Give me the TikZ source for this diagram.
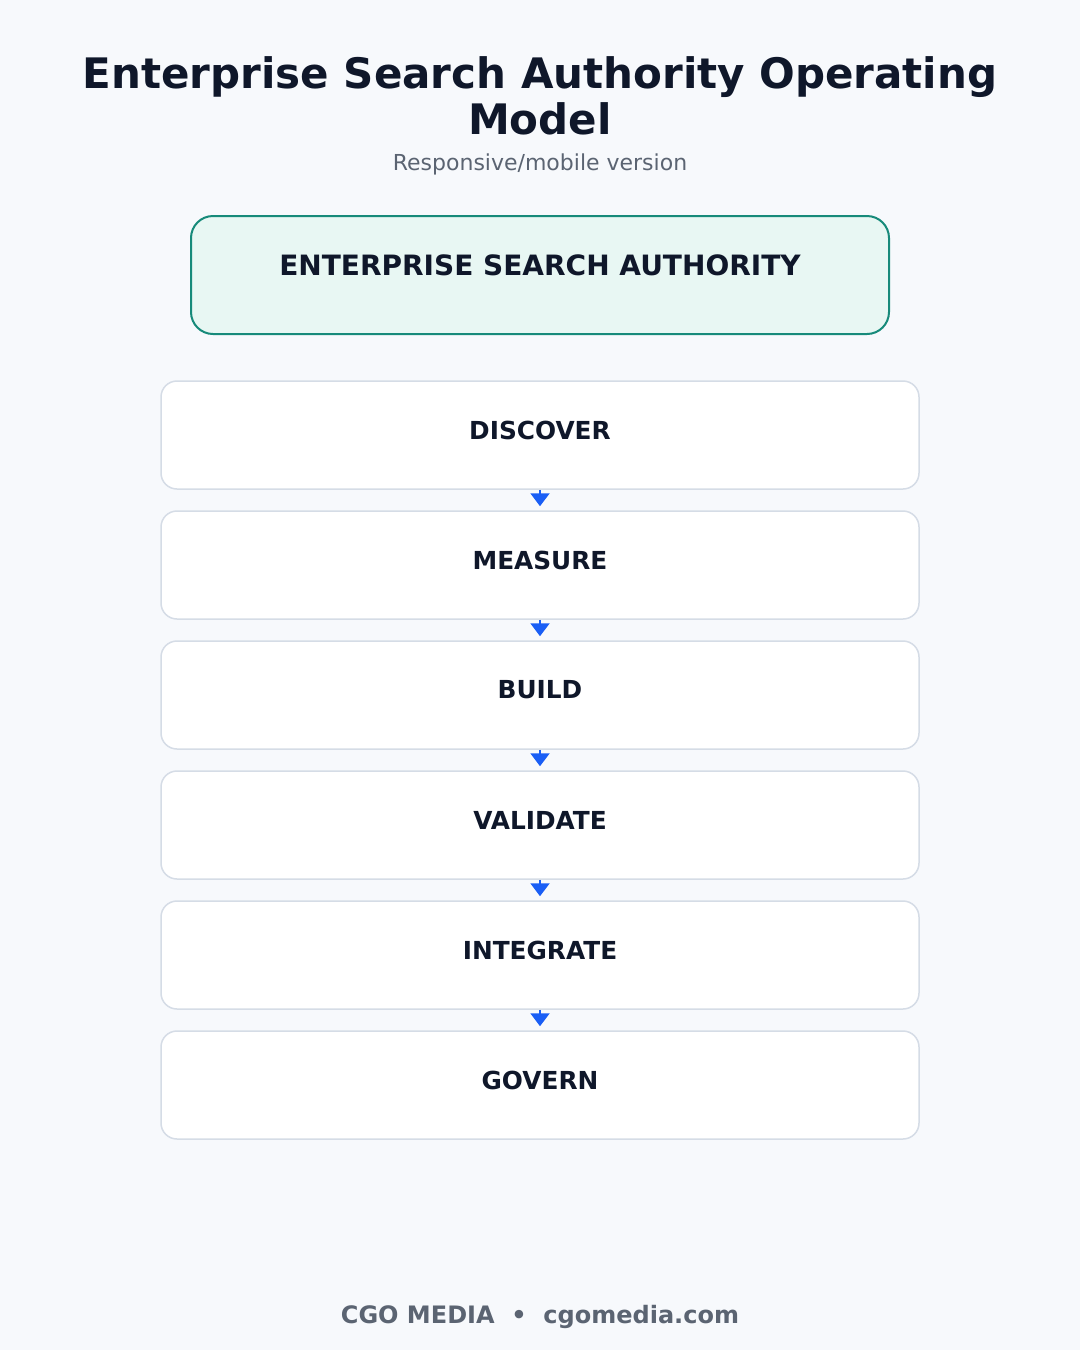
\documentclass[tikz,border=0pt]{standalone}
\usepackage{fontspec}
\setmainfont{DejaVu Sans}
\usetikzlibrary{arrows.meta}
\definecolor{bg}{HTML}{F7F9FC}
\definecolor{ink}{HTML}{0F172A}
\definecolor{subgray}{HTML}{5B6472}
\definecolor{teal}{HTML}{178A7A}
\definecolor{tealfill}{HTML}{E8F7F3}
\definecolor{boxline}{HTML}{D5DCE6}
\definecolor{arrowblue}{HTML}{1A5EF5}
\tikzset{
  stagebox/.style={draw=boxline, line width=1.5pt, fill=white, rounded corners=16pt,
    minimum width=758pt, minimum height=108pt, inner sep=0pt},
  stagelabel/.style={font=\fontsize{24.8}{28}\selectfont\bfseries, text=ink},
  flowarrow/.style={draw=arrowblue, line width=2pt, -{Triangle[width=19pt,length=13pt]}, shorten >=4pt},
}
\begin{document}
\begin{tikzpicture}[x=1pt,y=-1pt]
\path[fill=bg] (0,0) rectangle (1080,1350);
\useasboundingbox (0,0) rectangle (1080,1350);
\node[font=\fontsize{42}{46}\selectfont\bfseries, text=ink, align=center] (title) at (540,96)
  {Enterprise Search Authority Operating\\Model};
\node[font=\fontsize{22}{26}\selectfont, text=subgray] (sub) at (540,164) {Responsive/mobile version};
\node[draw=teal, line width=2pt, fill=tealfill, rounded corners=22pt, minimum width=698pt, minimum height=118pt, inner sep=0pt] (top) at (540,275) {};
\node[font=\fontsize{28}{32}\selectfont\bfseries, text=ink] (toplabel) at (540,265) {ENTERPRISE SEARCH AUTHORITY};
\foreach \name/\lab [count=\i from 0] in {s1/DISCOVER,s2/MEASURE,s3/BUILD,s4/VALIDATE,s5/INTEGRATE,s6/GOVERN}{
  \node[stagebox] (\name) at (540,435+130*\i) {};
  \node[stagelabel] (\name l) at (540,430+130*\i) {\lab};
}
\foreach \a/\b in {s1/s2,s2/s3,s3/s4,s4/s5,s5/s6}{
  \draw[flowarrow] (\a.south) -- (\b.north);
}
\node[font=\fontsize{24}{28}\selectfont\bfseries, text=subgray] (foot) at (540,1317) {CGO MEDIA \ \textbullet\ \ cgomedia.com};
\end{tikzpicture}
\end{document}
